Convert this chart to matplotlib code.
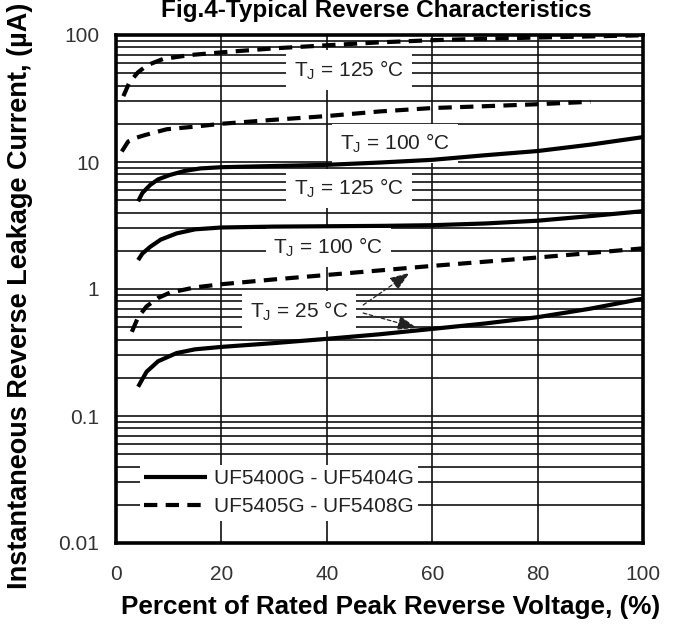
import matplotlib
matplotlib.use("Agg")
import matplotlib.pyplot as plt
from matplotlib.ticker import FixedLocator, NullFormatter

FONT = ["Liberation Sans", "DejaVu Sans"]
plt.rcParams["font.family"] = FONT
plt.rcParams["mathtext.fontset"] = "custom"
plt.rcParams["mathtext.rm"] = "Liberation Sans"

# percent of rated peak reverse voltage vs leakage current (uA)
# UF5400G - UF5404G (solid)
s125_x = [4.2, 5.0, 6.5, 8.0, 10.2, 13, 16, 20, 30, 40, 50, 60, 70, 80, 90, 100]
s125_y = [4.9, 5.7, 6.6, 7.3, 7.9, 8.5, 8.9, 9.1, 9.3, 9.5, 9.9, 10.4, 11.3, 12.2, 13.7, 15.7]
s100_x = [4.2, 5.0, 6.5, 8.5, 11.5, 15, 20, 30, 40, 50, 60, 70, 80, 90, 100]
s100_y = [1.69, 1.9, 2.15, 2.45, 2.74, 2.95, 3.05, 3.1, 3.12, 3.14, 3.18, 3.28, 3.45, 3.75, 4.1]
s25_x = [4.2, 5.0, 5.8, 8.0, 11.5, 15, 20, 30, 40, 50, 60, 70, 80, 90, 100]
s25_y = [0.17, 0.195, 0.223, 0.27, 0.313, 0.335, 0.35, 0.375, 0.405, 0.44, 0.485, 0.535, 0.6, 0.7, 0.84]

# UF5405G - UF5408G (dashed)
d125_x = [1.4, 2.5, 4.2, 6.0, 8.9, 14, 20, 30, 40, 50, 60, 70, 80, 90, 100]
d125_y = [33, 42, 51, 58, 64.7, 69.5, 73, 78.5, 83, 87.5, 91, 93.5, 95.5, 97.5, 99.5]
d100_x = [1.1, 2.3, 4.0, 5.5, 9.6, 15, 20, 30, 40, 50, 60, 70, 80, 90]
d100_y = [12.1, 14.5, 15.6, 16.3, 18.1, 19.0, 20.0, 21.5, 23.0, 25.0, 26.6, 27.5, 28.5, 29.8]
d25_x = [3.0, 4.2, 5.8, 8.0, 10.2, 15, 20, 30, 40, 50, 60, 70, 80, 90, 100]
d25_y = [0.46, 0.6, 0.73, 0.85, 0.935, 1.03, 1.09, 1.19, 1.29, 1.4, 1.52, 1.64, 1.77, 1.92, 2.09]

x_ticks = [0, 20, 40, 60, 80, 100]
y_ticks = [0.01, 0.1, 1, 10, 100]
y_labels = ["0.01", "0.1", "1", "10", "100"]

fig = plt.figure(figsize=(6.78, 6.25), dpi=100)
ax = fig.add_axes([0.1711, 0.1312, 0.7773, 0.8128])
ax.set_yscale("log")
ax.set_xlim(0, 100)
ax.set_ylim(0.01, 100)

ax.set_xticks(x_ticks)
ax.set_xticklabels([str(v) for v in x_ticks])
ax.set_yticks(y_ticks)
ax.set_yticklabels(y_labels)
minors = [m * 10.0 ** e for e in range(-2, 2) for m in range(2, 10)]
ax.yaxis.set_minor_locator(FixedLocator(minors))
ax.yaxis.set_minor_formatter(NullFormatter())
ax.tick_params(which="both", length=0)
ax.tick_params(axis="y", pad=12, labelsize=15, labelcolor="#333333")
ax.tick_params(axis="x", pad=16, labelsize=15, labelcolor="#333333")

ax.set_axisbelow(True)
ax.grid(True, which="both", axis="y", color="#111111", lw=1.2)
ax.grid(True, which="major", axis="x", color="#111111", lw=1.2)
for sp in ax.spines.values():
    sp.set_linewidth(2.6)

lw = 3.0
dash = (3.2, 2.0)
ax.plot(s125_x, s125_y, color="black", lw=lw, zorder=5, solid_capstyle="butt",
        label="UF5400G - UF5404G")
ax.plot(s100_x, s100_y, color="black", lw=lw, zorder=5, solid_capstyle="butt")
ax.plot(s25_x, s25_y, color="black", lw=lw, zorder=5, solid_capstyle="butt")
ax.plot(d125_x, d125_y, color="black", lw=lw, zorder=5, dashes=dash,
        label="UF5405G - UF5408G")
ax.plot(d100_x, d100_y, color="black", lw=lw, zorder=5, dashes=dash)
ax.plot(d25_x, d25_y, color="black", lw=lw, zorder=5, dashes=dash)

box = dict(boxstyle="square,pad=0.38", fc="white", ec="none")
labels = [
    (44.2, 53.0, "125"),
    (52.9, 14.0, "100"),
    (44.2, 6.18, "125"),
    (40.3, 2.12, "100"),
    (34.7, 0.671, "25"),
]
for lx, ly, t in labels:
    ax.text(lx, ly, "T$_\\mathregular{J}$ = %s °C" % t, fontsize=15, color="#222222",
            ha="center", va="center", bbox=box, zorder=4)

arrow = dict(arrowstyle="-|>,head_length=0.6,head_width=0.22", lw=0.9, ls=(0, (3, 2)),
             color="#222222", mutation_scale=20, shrinkA=0, shrinkB=0)
ax.annotate("", xy=(55.7, 1.34), xytext=(46.9, 0.748), arrowprops=arrow, zorder=6)
ax.annotate("", xy=(57.1, 0.493), xytext=(46.9, 0.647), arrowprops=arrow, zorder=6)

leg = ax.legend(loc="lower left", bbox_to_anchor=(0.046, 0.044), borderaxespad=0,
                fontsize=15, handlelength=3.0, handletextpad=0.35, labelspacing=0.45,
                borderpad=0.2, frameon=True, fancybox=False, framealpha=1,
                edgecolor="none", facecolor="white")
for t in leg.get_texts():
    t.set_color("#222222")

fig.text(391 / 678, 1 - 607 / 625, "Percent of Rated Peak Reverse Voltage, (%)",
         fontweight="bold", fontsize=18.8, ha="center", va="center")
fig.text(20 / 678, 1 - 296 / 625, "Instantaneous Reverse Leakage Current, (\u00b5A)",
         fontweight="bold", fontsize=19.5, ha="center", va="center", rotation=90)
fig.text(376 / 678, 1 - 17 / 625, "Fig.4-Typical Reverse Characteristics",
         fontweight="bold", fontsize=17.5, ha="center", va="baseline")

fig.savefig("out.png", dpi=100, facecolor="white")
